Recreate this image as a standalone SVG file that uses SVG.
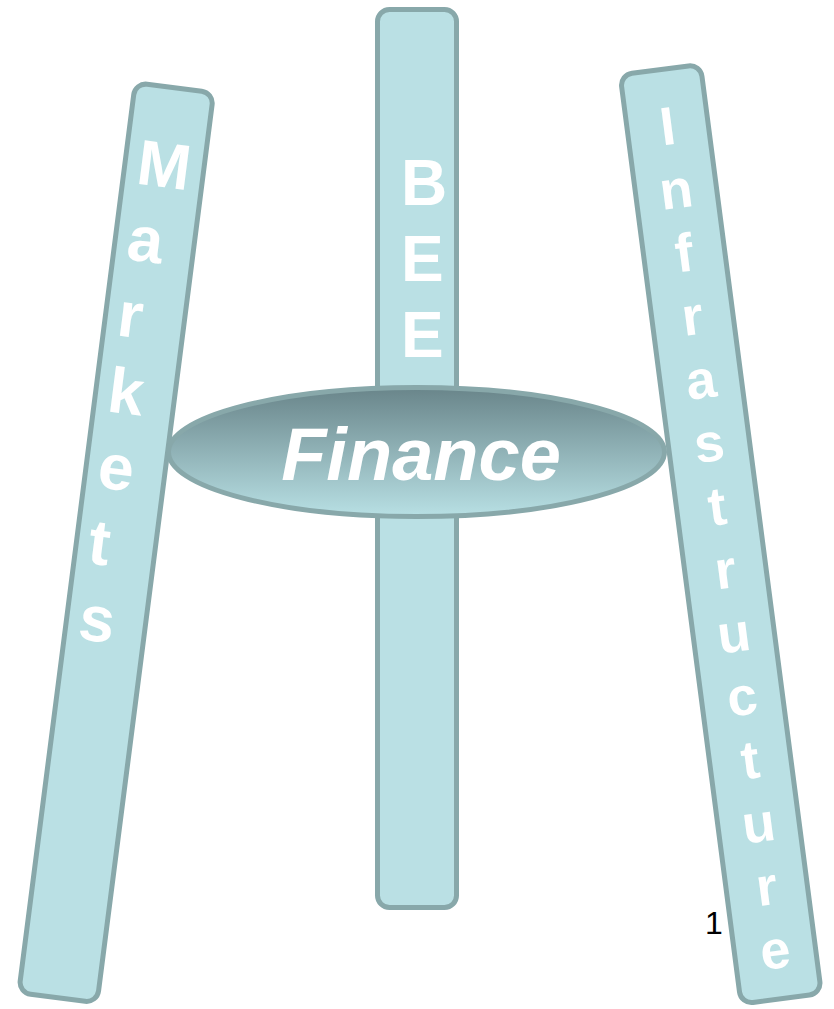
<svg xmlns="http://www.w3.org/2000/svg" width="834" height="1009" viewBox="0 0 834 1009">
  <defs>
    <linearGradient id="finGrad" x1="0" y1="0" x2="0" y2="1">
      <stop offset="0" stop-color="#69858a"/>
      <stop offset="1" stop-color="#b8e0e4"/>
    </linearGradient>
    <style>
      .bar { fill: #bae0e4; stroke: #88a8aa; stroke-width: 5; }
      .lbl { fill: #ffffff; font-family: "Liberation Sans", Arial, sans-serif; font-weight: bold; }
      .big { font-size: 64px; }
      .small { font-size: 54px; text-anchor: middle; }
    </style>
  </defs>
  <rect width="834" height="1009" fill="#ffffff"/>

  <g id="markets" transform="translate(116,544) rotate(7.3)">
    <rect class="bar" x="-39.5" y="-460" width="79" height="917.5" rx="12"/>
    <text class="lbl big" x="-27" y="-360">M</text>
    <text class="lbl big" x="-27" y="-283.5">a</text>
    <text class="lbl big" x="-27" y="-207">r</text>
    <text class="lbl big" x="-27" y="-130.5">k</text>
    <text class="lbl big" x="-27" y="-54">e</text>
    <text class="lbl big" x="-27" y="22.5">t</text>
    <text class="lbl big" x="-27" y="99">s</text>
  </g>

  <g id="infrastructure" transform="translate(720.75,534.2) rotate(-7.42)">
    <rect class="bar" x="-40.5" y="-468.5" width="81" height="937" rx="12"/>
    <text class="lbl small" x="0" y="-392.9">I</text>
    <text class="lbl small" x="0" y="-329">n</text>
    <text class="lbl small" x="0" y="-265.1">f</text>
    <text class="lbl small" x="0" y="-201.2">r</text>
    <text class="lbl small" x="0" y="-137.3">a</text>
    <text class="lbl small" x="0" y="-73.4">s</text>
    <text class="lbl small" x="0" y="-9.5">t</text>
    <text class="lbl small" x="0" y="54.4">r</text>
    <text class="lbl small" x="0" y="118.3">u</text>
    <text class="lbl small" x="0" y="182.2">c</text>
    <text class="lbl small" x="0" y="246.1">t</text>
    <text class="lbl small" x="0" y="310">u</text>
    <text class="lbl small" x="0" y="373.9">r</text>
    <text class="lbl small" x="0" y="437.8">e</text>
  </g>

  <g id="bee">
    <rect class="bar" x="377.5" y="9.5" width="79" height="898" rx="12"/>
    <text class="lbl big" x="401" y="205">B</text>
    <text class="lbl big" x="401" y="281">E</text>
    <text class="lbl big" x="401" y="357">E</text>
  </g>

  <g id="finance">
    <ellipse cx="416.5" cy="452" rx="248" ry="64.5" fill="url(#finGrad)" stroke="#88a8aa" stroke-width="5"/>
    <text class="lbl" x="421" y="480" font-size="74" font-style="italic" text-anchor="middle">Finance</text>
  </g>

  <g id="connectors"></g>

  <text x="705" y="934" font-family="Liberation Sans, Arial, sans-serif" font-size="32" fill="#000000">1</text>
</svg>
